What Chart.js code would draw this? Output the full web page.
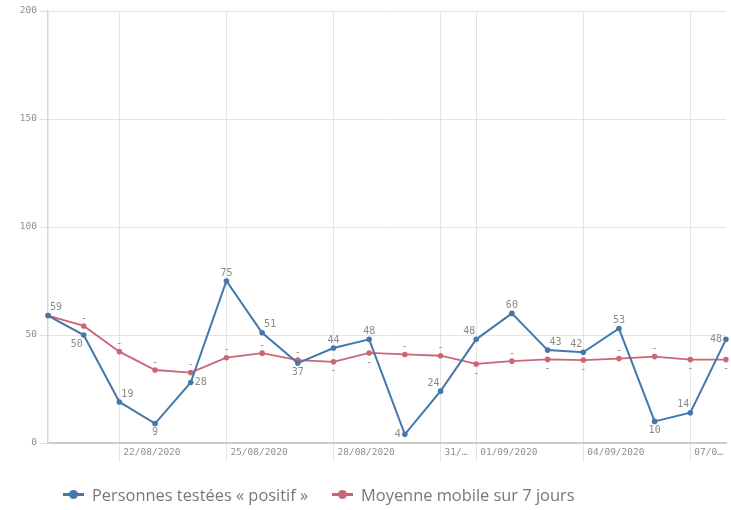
<!DOCTYPE html>
<html>
<head>
<meta charset="utf-8">
<script src="https://cdn.jsdelivr.net/npm/chart.js@4"></script>
<style>
  body { margin: 0; background: #fff; }
  #wrap { position: relative; width: 731px; height: 510px; }
  #legend { position: absolute; left: 63px; top: 483px; height: 22px; display: flex; align-items: center;
            font-family: "Open Sans", Lato, sans-serif; font-size: 16.4px; color: #777; }
  .item { display: flex; align-items: center; margin-right: 24px; }
  .mark { position: relative; width: 21px; height: 10px; margin-right: 8px; }
  .mark .ln { position: absolute; left: 0; right: 0; top: 4px; height: 3px; }
  .mark .dot { position: absolute; left: 6px; top: 1px; width: 9px; height: 9px; border-radius: 50%; }
</style>
</head>
<body>
<div id="wrap">
  <canvas id="myChart" width="731" height="510"></canvas>
  <div id="legend"></div>
</div>
<script>
// dates shown on the x axis (one per day)
const days = ["20/08/2020", "21/08/2020", "22/08/2020", "23/08/2020", "24/08/2020",
    "25/08/2020", "26/08/2020", "27/08/2020", "28/08/2020", "29/08/2020",
    "30/08/2020", "31/08/2020", "01/09/2020", "02/09/2020", "03/09/2020",
    "04/09/2020", "05/09/2020", "06/09/2020", "07/09/2020", "08/09/2020"];
// what the axis actually prints (empty = no label, no grid line)
const tickLabels = ["", "", "22/08/2020", "", "", "25/08/2020", "", "", "28/08/2020", "",
    "", "31/…", "01/09/2020", "", "", "04/09/2020", "", "", "07/0…", ""];

const positifs = [59, 50, 19, 9, 28, 75, 51, 37, 44, 48, 4, 24, 48, 60, 43, 42, 53, 10, 14, 48];
const moyenne7j = [59, 54.2, 42.3, 33.8, 32.6, 39.5, 41.6, 38.4, 37.6, 41.7,
    41.0, 40.4, 36.6, 37.9, 38.7, 38.4, 39.1, 40.0, 38.6, 38.6];

const yTicks = [0, 50, 100, 150, 200];

// where each value label sits around its point
const positifsLabelPos = ["ne", "sw", "ne", "s", "e", "n", "ne", "s", "n", "n",
    "w", "nw", "nw", "n", "ne", "nw", "n", "s", "nw", "w"];
const moyenneLabelPos = [null, "n", "n", "n", "n", "n", "n", "n", "s", "s",
    "n", "n", "s", "n", "s", "s", "n", "n", "s", "s"];

const BLUE = "#4477aa";
const RED = "#cc6677";
const monoFont = '"DejaVu Sans Mono", "Liberation Mono", monospace';

//small plugin that writes the value labels next to the points
const valueLabels = {
    id: "valueLabels",
    afterDatasetsDraw(chart) {
        const ctx = chart.ctx;
        ctx.save();
        ctx.font = "10px " + monoFont;
        ctx.fillStyle = "#8a8a8a";
        chart.data.datasets.forEach(function (ds, di) {
            const meta = chart.getDatasetMeta(di);
            meta.data.forEach(function (pt, i) {
                const pos = ds.labelPos[i];
                if (!pos) return;
                const txt = ds.labelText ? ds.labelText : String(ds.data[i]);
                let x = pt.x, y = pt.y, align = "center";
                if (pos.indexOf("n") >= 0) y -= 8;
                if (pos.indexOf("s") >= 0) y += 9;
                if (pos.indexOf("e") >= 0) { x += (pos === "e" ? 4 : 2); align = "left"; }
                if (pos.indexOf("w") >= 0) { x -= (pos === "w" ? 4 : 1); align = "right"; }
                ctx.textAlign = align;
                ctx.textBaseline = "middle";
                ctx.fillText(txt, x, y);
            });
        });
        ctx.restore();
    }
};

const ctx = document.getElementById("myChart").getContext("2d");

const myChart = new Chart(ctx, {
    type: "line",
    data: {
        labels: days,
        datasets: [{
            label: "Personnes testées « positif »",
            data: positifs,
            borderColor: BLUE,
            backgroundColor: BLUE,
            borderWidth: 2,
            pointRadius: 2.8,
            pointBorderWidth: 0,
            pointHoverRadius: 2.8,
            tension: 0,
            labelPos: positifsLabelPos
        }, {
            label: "Moyenne mobile sur 7 jours",
            data: moyenne7j,
            borderColor: RED,
            backgroundColor: RED,
            borderWidth: 1.8,
            pointRadius: 2.8,
            pointBorderWidth: 0,
            pointHoverRadius: 2.8,
            tension: 0,
            labelPos: moyenneLabelPos,
            labelText: "-"
        }]
    },
    options: {
        responsive: false,
        animation: false,
        layout: {padding: {top: 11, right: 5, bottom: 43, left: 0}},
        plugins: {
            legend: {display: false},
            tooltip: {enabled: false}
        },
        scales: {
            x: {
                offset: false,
                grid: {
                    offset: false,
                    color: function (c) { return tickLabels[c.index] ? "#e4e4e4" : "rgba(0,0,0,0)"; },
                    tickLength: 19,
                    drawOnChartArea: true
                },
                border: {color: "#cccccc", width: 2},
                ticks: {
                    autoSkip: false,
                    maxRotation: 0,
                    align: "start",
                    labelOffset: 4,
                    padding: -15,
                    font: {family: monoFont, size: 9.5},
                    color: "#8f8f8f",
                    callback: function (v, i) { return tickLabels[i]; }
                },
                afterFit: function (scale) { scale.height = 24; }
            },
            y: {
                min: 0,
                max: 200,
                afterBuildTicks: function (scale) {
                    scale.ticks = yTicks.map(function (v) { return {value: v}; });
                },
                grid: {color: "#e4e4e4", tickLength: 8, tickColor: "#dddddd"},
                border: {color: "#d6d6d6", width: 1.5},
                ticks: {
                    padding: 3,
                    font: {family: monoFont, size: 9.5},
                    color: "#8f8f8f"
                },
                afterFit: function (scale) { scale.width = 48; }
            }
        }
    },
    plugins: [valueLabels]
});

// html legend under the chart
const legend = document.getElementById("legend");
myChart.data.datasets.forEach(function (ds) {
    const item = document.createElement("div");
    item.className = "item";
    item.innerHTML = '<span class="mark"><span class="ln" style="background:' + ds.borderColor +
        '"></span><span class="dot" style="background:' + ds.borderColor + '"></span></span>' +
        '<span>' + ds.label + '</span>';
    legend.appendChild(item);
});
</script>
</body>
</html>
